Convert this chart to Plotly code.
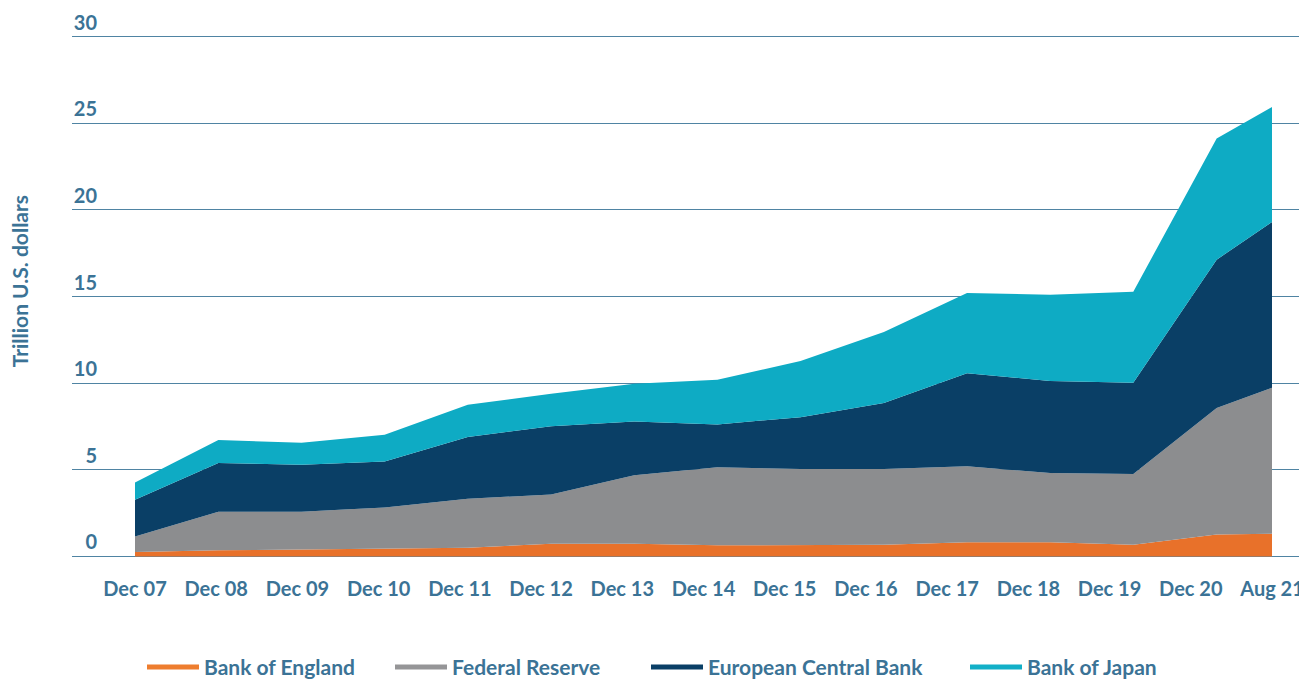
import numpy as np
import pandas as pd
import plotly.graph_objects as go

# ---- data ----
dates = ["2007-12-31", "2008-12-31", "2009-12-31", "2010-12-31", "2011-12-31",
         "2012-12-31", "2013-12-31", "2014-12-31", "2015-12-31", "2016-12-31",
         "2017-12-31", "2018-12-31", "2019-12-31", "2020-12-31", "2021-08-31"]
tick_labels = ["Dec 07", "Dec 08", "Dec 09", "Dec 10", "Dec 11", "Dec 12", "Dec 13",
               "Dec 14", "Dec 15", "Dec 16", "Dec 17", "Dec 18", "Dec 19", "Dec 20", "Aug 21"]
bank_of_england = [0.25, 0.35, 0.40, 0.44, 0.50, 0.73, 0.73, 0.64, 0.64, 0.67, 0.81, 0.81, 0.67, 1.27, 1.31]
federal_reserve = [0.90, 2.23, 2.18, 2.39, 2.83, 2.85, 3.95, 4.50, 4.40, 4.37, 4.40, 4.00, 4.08, 7.29, 8.43]
european_central_bank = [2.12, 2.81, 2.71, 2.65, 3.56, 3.93, 3.11, 2.48, 3.00, 3.81, 5.37, 5.31, 5.28, 8.57, 9.56]
bank_of_japan = [1.00, 1.33, 1.27, 1.54, 1.87, 1.88, 2.18, 2.58, 3.24, 4.10, 4.62, 4.99, 5.25, 6.99, 6.64]
y_ticks = [0, 5, 10, 15, 20, 25, 30]

series = [
    ("Bank of England", bank_of_england, "#E8712A", "#EE7D2E"),
    ("Federal Reserve", federal_reserve, "#8C8D8F", "#959597"),
    ("European Central Bank", european_central_bank, "#0A3F66", "#0A3F66"),
    ("Bank of Japan", bank_of_japan, "#0EABC4", "#12B0C8"),
]
legend_line_start_px = [152, 400, 656, 975]

TXT = "#3B7396"
GRID = "#4F84A3"
FONT = "Lato"
# the page body has an 8px margin: the figure starts at (8, 8) in the window
OX, OY = 8, 8
W, H = 1307 - OX, 679 - OY


def px(v):
    return v - OX


def py(v):
    return v - OY


L, R = px(72), 0
PXU = (556 - 36.5) / 30.0
Y0, Y1 = -0.15, 30.1
T = py(36.5) - (Y1 - 30) * PXU
B = H - (py(556) + (0 - Y0) * PXU)
PW = W - L - R
PH = H - T - B

x = pd.to_datetime(dates)
t0, t1 = x[0].value, x[-1].value
tickvals = pd.to_datetime(np.linspace(t0, t1, len(tick_labels)).astype("int64"))
px_per_ns = (1272 - 135) / (t1 - t0)
x_left = pd.to_datetime(int(t0 - (px(135) - L) / px_per_ns))
x_right = pd.to_datetime(int(t1 + (W - R - px(1272)) / px_per_ns))

fig = go.Figure()
for name, vals, fill, leg in series:
    fig.add_trace(go.Scatter(
        x=x, y=vals, name=name, stackgroup="one", mode="lines",
        line=dict(width=0, color=fill), fillcolor=fill, showlegend=False,
        hoverinfo="x+y+name"))

legend_layouts = {}
for i, ((name, vals, fill, leg), lx) in enumerate(zip(series, legend_line_start_px)):
    key = "legend" if i == 0 else f"legend{i + 1}"
    fig.add_trace(go.Scatter(
        x=[None], y=[None], name=name, mode="lines",
        line=dict(width=5, color=leg), showlegend=True, legend=key))
    legend_layouts[key] = dict(
        orientation="h", x=(px(lx) - 10 - L) / PW, xanchor="left",
        y=(H - B - py(667)) / PH, yanchor="middle", itemwidth=52,
        font=dict(family=FONT, size=21, color=TXT, weight="bold"),
        bgcolor="rgba(0,0,0,0)", borderwidth=0)

fig.update_layout(
    width=W, height=H,
    margin=dict(l=L, r=R, t=T, b=B, autoexpand=False),
    paper_bgcolor="white", plot_bgcolor="white",
    font=dict(family=FONT, size=20, color=TXT, weight="bold"),
    showlegend=True,
    xaxis=dict(type="date", range=[x_left, x_right], tickmode="array",
               tickvals=tickvals, ticktext=tick_labels, showgrid=False,
               zeroline=False, showline=False, ticks="", ticklabelstandoff=16,
               automargin=False, domain=[0, 1],
               tickfont=dict(family=FONT, size=20, color=TXT, weight="bold")),
    yaxis=dict(range=[Y0, Y1], tickvals=y_ticks,
               anchor="free", position=(px(97) - L) / PW,
               ticklabelposition="outside top", ticklabeloverflow="allow",
               showgrid=True, gridcolor=GRID, automargin=False,
               gridwidth=1.2, zeroline=False, showline=False, ticks="",
               tickfont=dict(family=FONT, size=20, color=TXT, weight="bold")),
    annotations=[dict(text="Trillion U.S. dollars", textangle=-90, xref="paper", yref="paper",
                      x=(px(19) - L) / PW, y=(H - B - py(281)) / PH, xanchor="center", yanchor="middle",
                      showarrow=False, font=dict(family=FONT, size=21, color=TXT, weight="bold"))],
    **legend_layouts,
)

fig.write_html("out.html")
